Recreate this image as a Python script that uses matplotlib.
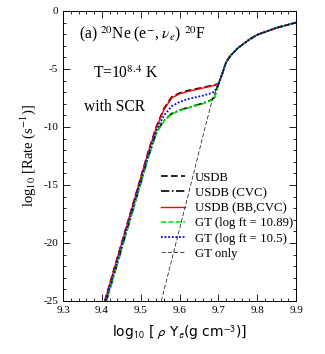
import matplotlib
matplotlib.use("Agg")
import matplotlib.pyplot as plt
from matplotlib.ticker import MultipleLocator

plt.rcParams['font.family'] = ['Liberation Serif', 'DejaVu Serif']
plt.rcParams['mathtext.fontset'] = 'stix'
plt.rcParams['axes.unicode_minus'] = False

# ---- data ----
x = [9.40, 9.42, 9.44, 9.46, 9.48, 9.50, 9.52, 9.54, 9.55, 9.56, 9.58, 9.60, 9.62,
     9.64, 9.66, 9.68, 9.69, 9.70, 9.71, 9.72, 9.73, 9.75, 9.78, 9.80, 9.85, 9.90]

tail = [-5.4, -4.4, -3.9, -3.2, -2.45, -2.05, -1.45, -1.0]

bb_cvc = [-25.9, -23.6, -21.3, -19.0, -16.7, -14.4, -12.1, -10.1, -9.3, -8.5, -7.5, -7.15,
          -6.95, -6.8, -6.65, -6.5, -6.42, -6.3] + tail
usdb = [-25.85, -23.55, -21.25, -18.95, -16.65, -14.35, -12.05, -10.0, -9.2, -8.4, -7.4,
        -7.08, -6.88, -6.73, -6.6, -6.45, -6.38, -6.28] + tail
gt_1089 = [-26.4, -24.1, -21.8, -19.5, -17.2, -14.9, -12.6, -10.6, -10.0, -9.5, -8.9, -8.6,
           -8.4, -8.2, -8.0, -7.75, -7.5, -6.35] + tail
usdb_cvc = [-26.35, -24.05, -21.75, -19.45, -17.15, -14.85, -12.55, -10.55, -9.95, -9.45,
            -8.85, -8.55, -8.35, -8.15, -7.95, -7.7, -7.45, -6.33] + tail
gt_105 = [-26.15, -23.85, -21.55, -19.25, -16.95, -14.65, -12.35, -10.35, -9.65, -9.0,
          -8.2, -7.85, -7.6, -7.45, -7.3, -7.1, -6.95, -6.32] + tail

x_gt = [9.553, 9.60, 9.64, 9.666, 9.684, 9.70, 9.71, 9.72, 9.73, 9.75, 9.78, 9.80, 9.85, 9.90]
gt_only = [-25.0, -18.8, -13.5, -10.0, -7.7, -6.3] + tail

#==============================================================================
fig = plt.figure(figsize=(3.25, 3.54), dpi=100)
ax = fig.add_axes([0.194, 0.150, 0.717, 0.819])

ax.plot(x, usdb, color='black', ls=(0, (4, 2)), lw=1.2, label='USDB')
ax.plot(x, usdb_cvc, color='black', ls=(0, (5, 1.5, 1, 1.5)), lw=1.2, label='USDB (CVC)')
ax.plot(x, bb_cvc, color='red', ls='-', lw=1.0, label='USDB (BB,CVC)')
ax.plot(x, gt_1089, color='#00ee00', ls=(0, (3, 1.5)), lw=1.2, label='GT (log ft = 10.89)')
ax.plot(x, gt_105, color='blue', ls=(0, (1, 1)), lw=1.3, label='GT (log ft = 10.5)')
ax.plot(x_gt, gt_only, color='black', ls=(0, (6, 3)), lw=0.5, label='GT only')

ax.set_xlim(9.3, 9.9)
ax.set_ylim(-25, 0)
ax.xaxis.set_major_locator(MultipleLocator(0.1))
ax.xaxis.set_minor_locator(MultipleLocator(0.02))
ax.yaxis.set_major_locator(MultipleLocator(5))
ax.yaxis.set_minor_locator(MultipleLocator(1))
ax.tick_params(which='both', direction='in', top=True, right=True, labelsize=8, width=0.6)
ax.tick_params(which='major', length=5)
ax.tick_params(which='minor', length=2.5)
for s in ax.spines.values():
    s.set_linewidth(0.7)

ax.set_xlabel(r'log$_{\mathsf{10}}$ [ $\mathsf{\rho}$ Y$_{\mathsf{e}}$(g cm$^{\mathsf{-3}}$)]',
              family='DejaVu Sans', fontsize=10, labelpad=6)
ax.set_ylabel(r'log$_{10}$ [Rate (s$^{-1}$)]', fontsize=10.5, labelpad=4)

ax.text(0.07, 0.905, r'(a) $^{20}$Ne (e$^{-}$, $\nu_{e}$) $^{20}$F', transform=ax.transAxes,
        fontsize=11.2)
ax.text(0.13, 0.77, r'T=10$^{8.4}$ K', transform=ax.transAxes, fontsize=11.2)
ax.text(0.09, 0.655, 'with SCR', transform=ax.transAxes, fontsize=11.2)

ax.legend(loc='upper left', bbox_to_anchor=(0.398, 0.463), frameon=False, fontsize=9.2,
          handlelength=1.9, handletextpad=0.75, labelspacing=0.25, borderaxespad=0)

fig.savefig('out.png', dpi=100)
